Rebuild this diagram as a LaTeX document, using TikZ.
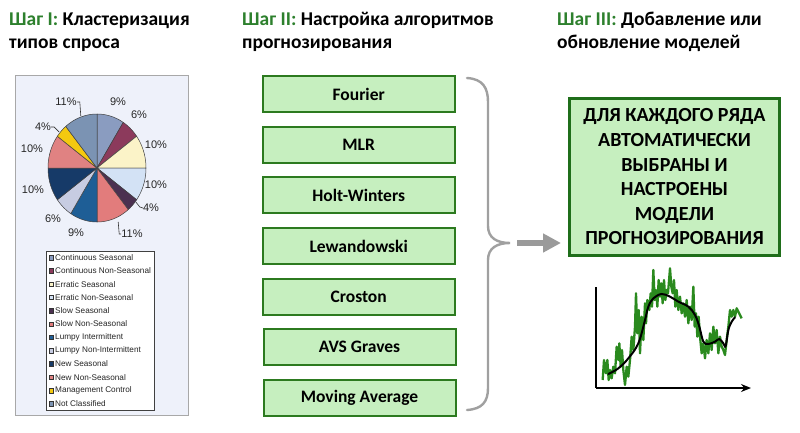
\documentclass[tikz,border=0pt]{standalone}
\usepackage{fontspec}
\setmainfont{Carlito}
\newfontfamily\arialf{Liberation Sans}
\usetikzlibrary{arrows.meta}
\definecolor{hgreen}{HTML}{2D802D}
\definecolor{boxfill}{HTML}{C6EFBF}
\definecolor{boxline}{HTML}{2C7A1F}
\definecolor{bigline}{HTML}{1F6E1A}
\definecolor{bracegray}{HTML}{A0A0A0}
\definecolor{arrowgray}{HTML}{9A9A9A}
\definecolor{panelfill}{HTML}{EEF1FA}
\definecolor{panelline}{HTML}{A8A8A8}
\definecolor{noisegreen}{HTML}{2A8A1E}
\definecolor{pc1}{HTML}{8A9CC0}
\definecolor{pc2}{HTML}{8C3A5C}
\definecolor{pc3}{HTML}{FBF3C8}
\definecolor{pc4}{HTML}{D3E2F5}
\definecolor{pc5}{HTML}{4B3050}
\definecolor{pc6}{HTML}{E27C7C}
\definecolor{pc7}{HTML}{1E5E96}
\definecolor{pc8}{HTML}{C7CCE2}
\definecolor{pc9}{HTML}{163A68}
\definecolor{pc10}{HTML}{E08282}
\definecolor{pc11}{HTML}{F4C910}
\definecolor{pc12}{HTML}{7B93B3}
\tikzset{
  header/.style={anchor=base west, inner sep=0pt, font=\fontsize{19.5}{22}\selectfont\bfseries},
  algbox/.style={draw=boxline, line width=2pt, fill=boxfill, minimum width=192pt, minimum height=36.3pt, inner sep=0pt, font=\fontsize{17.5}{20}\selectfont\bfseries},
  bigbox/.style={draw=bigline, line width=3pt, fill=boxfill, minimum width=210pt, minimum height=157pt, inner sep=0pt, align=center, font=\fontsize{20}{24.6}\selectfont\bfseries},
  pielabel/.style={inner sep=0pt, font=\arialf\fontsize{11}{13}\selectfont, text=black!85},
  leader/.style={draw=black!80, line width=0.6pt},
  legsq/.style={draw=black!80, line width=0.5pt, minimum size=4.5pt, inner sep=0pt},
  legtext/.style={anchor=west, inner sep=0pt, font=\arialf\fontsize{8.2}{9}\selectfont, text=black!85},
  bracestyle/.style={draw=bracegray, line width=2.4pt, line cap=round},
}
\begin{document}
\begin{tikzpicture}[x=1pt,y=-1pt]
\useasboundingbox (0,0) rectangle (800,433);
\fill[white] (0,0) rectangle (800,433);

% ---------- headers ----------
\node[header] (h1a) at (9,26) {\textcolor{hgreen}{Шаг I:} Кластеризация};
\node[header] (h1b) at (9,48.3) {типов спроса};
\node[header] (h2a) at (242,26) {\textcolor{hgreen}{Шаг II:} Настройка алгоритмов};
\node[header] (h2b) at (242,48.3) {прогнозирования};
\node[header] (h3a) at (557,26) {\textcolor{hgreen}{Шаг III:} Добавление или};
\node[header] (h3b) at (557,48.3) {обновление моделей};

% ---------- pie panel ----------
\draw[panelline, fill=panelfill, line width=0.8pt] (15,75) rectangle (188,415);
\begin{scope}[shift={(97,168)}, xscale=49, yscale=54]
  \foreach \a/\b/\c in {0/32.4/pc1, 32.4/54/pc2, 54/90/pc3, 90/126/pc4, 126/140.4/pc5, 140.4/180/pc6, 180/212.4/pc7, 212.4/234/pc8, 234/270/pc9, 270/306/pc10, 306/320.4/pc11, 320.4/360/pc12} {
    \filldraw[fill=\c, draw=black!75, line width=0.5pt, line join=round]
      (0,0) -- plot[domain=\a:\b, samples=24, variable=\t] ({sin(\t)},{-cos(\t)}) -- cycle;
  }
\end{scope}
\node[pielabel] (p1) at (66,102) {11\%};
\node[pielabel] (p2) at (118,102) {9\%};
\node[pielabel] (p3) at (139,115) {6\%};
\node[pielabel] (p4) at (156,145) {10\%};
\node[pielabel] (p5) at (156,185) {10\%};
\node[pielabel] (p6) at (151,208) {4\%};
\node[pielabel] (p7) at (132,234) {11\%};
\node[pielabel] (p8) at (76,233) {9\%};
\node[pielabel] (p9) at (53,219) {6\%};
\node[pielabel] (p10) at (33,190) {10\%};
\node[pielabel] (p11) at (32,149) {10\%};
\node[pielabel] (p12) at (43,127) {4\%};
\draw[leader] (p1.east) -- ++(3,0) -- ++(1,14);
\draw[leader] (p12.east) -- ++(3,0) -- ++(5,5);
\draw[leader] (p6.west) -- ++(-3,-1) -- ++(-4,-5);
\draw[leader] (p7.west) -- ++(-2,0) -- ++(-1,-12);

% legend
\draw[black!75, fill=white, line width=0.8pt] (46,251) rectangle (154,410);
\foreach \i/\c/\t in {1/pc1/Continuous Seasonal, 2/pc2/Continuous Non-Seasonal, 3/pc3/Erratic Seasonal, 4/pc4/Erratic Non-Seasonal, 5/pc5/Slow Seasonal, 6/pc6/Slow Non-Seasonal, 7/pc7/Lumpy Intermittent, 8/pc8/Lumpy Non-Intermittent, 9/pc9/New Seasonal, 10/pc10/New Non-Seasonal, 11/pc11/Management Control, 12/pc12/Not Classified} {
  \node[legsq, fill=\c] (lq\i) at (51, {257.5+13.3*(\i-1)}) {};
  \node[legtext] (lt\i) at (55, {257.5+13.3*(\i-1)}) {\t};
}

% ---------- algorithm boxes ----------
\node[algbox] (fourier) at (358.7,94.2) {Fourier};
\node[algbox] (mlr) at (358.7,145) {MLR};
\node[algbox] (holt) at (358.7,195.2) {Holt-Winters};
\node[algbox] (lew) at (358.7,246.2) {Lewandowski};
\node[algbox] (croston) at (358.7,296.7) {Croston};
\node[algbox] (avs) at (359.5,347.2) {AVS Graves};
\node[algbox] (mavg) at (359.5,398) {Moving Average};

% ---------- brace ----------
\coordinate (btip) at (510,243);
\draw[bracestyle] (467,78) .. controls (483,79) and (488,88) .. (488,102)
  -- (488,226) .. controls (488,238) and (497,243) .. (btip)
  .. controls (497,243) and (488,248) .. (488,260)
  -- (488,388) .. controls (488,402) and (482,409) .. (467,410);

% ---------- big box ----------
\node[bigbox] (big) at (674.5,177) {ДЛЯ КАЖДОГО РЯДА\\АВТОМАТИЧЕСКИ\\ВЫБРАНЫ И\\НАСТРОЕНЫ\\МОДЕЛИ\\ПРОГНОЗИРОВАНИЯ};

\draw[arrowgray, line width=6pt, shorten <=7pt, shorten >=7pt, -{Triangle[length=18pt,width=18pt]}] (btip) -- (big.west |- btip);

% ---------- chart ----------
\coordinate (yaxtop) at (596,287);
\coordinate (origin) at (596,388);
\coordinate (xaxend) at (751,388);
\draw[black, line width=2.2pt] (yaxtop) -- (origin);
\draw[black, line width=2.2pt, -{Stealth[length=10pt,width=8pt]}] (origin) -- (xaxend);
\begin{scope}[shift={(560,260)}, xscale=1/3, yscale=1/3]
  \draw[noisegreen, line width=2.3pt, line join=round] plot coordinates {
    (128,360) (132,300) (138,340) (142,300) (146,360) (150,330) (155,355) (160,320) (165,340) (170,260) (175,300) (178,250) (182,320) (186,270) (190,330) (195,375) (200,320) (205,350) (210,300) (215,230) (220,270) (225,200) (228,100) (232,220) (236,150) (240,280) (245,170) (250,240) (255,130) (258,190) (262,120) (268,150) (272,100) (276,140) (280,30) (284,120) (288,90) (292,140) (296,60) (300,110) (304,70) (308,130) (312,60) (316,120) (320,90) (324,100) (330,25) (334,80) (338,100) (342,60) (346,140) (350,90) (355,150) (360,110) (365,160) (370,130) (375,170) (380,120) (385,190) (390,140) (395,180) (400,80) (404,200) (408,160) (412,230) (416,170) (420,230) (425,280) (430,250) (435,295) (440,240) (445,280) (450,220) (455,270) (460,200) (465,250) (470,210) (475,280) (480,230) (485,260) (490,270) (495,285) (500,240) (505,200) (510,150) (515,170) (520,150) (525,170) (530,145) (545,175)
  };
  \draw[black, line width=2pt, line cap=round] plot[smooth, tension=0.6] coordinates {
    (145,342) (175,325) (205,295) (235,250) (255,180) (265,140) (280,115) (305,102) (330,110) (355,125) (385,140) (405,165) (418,200) (430,245) (445,252) (465,245) (478,237) (490,250) (497,258) (505,210) (515,185) (525,172)
  };
\end{scope}
\end{tikzpicture}
\end{document}
